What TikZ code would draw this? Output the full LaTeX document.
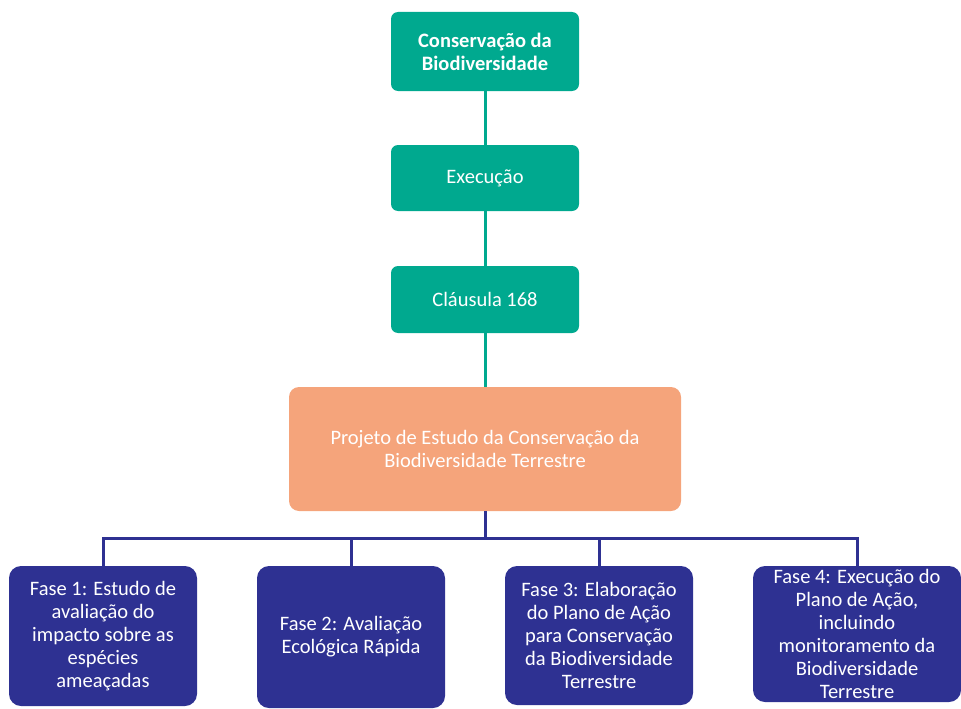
\documentclass[tikz,border=0pt]{standalone}
\usepackage{fontspec}
\setmainfont{Carlito}
\definecolor{gr}{HTML}{00A98F}
\definecolor{org}{HTML}{F5A47B}
\definecolor{nv}{HTML}{2E3192}
\begin{document}
\begin{tikzpicture}[x=1pt,y=-1pt,
  gbox/.style={fill=gr,rounded corners=7pt,inner sep=0pt,text=white,align=center,font=\fontsize{20.5}{23}\selectfont,minimum width=188pt},
  obox/.style={fill=org,rounded corners=10pt,inner sep=0pt,text=white,align=center,font=\fontsize{20.5}{22.5}\selectfont,minimum width=392pt,minimum height=124pt},
  bbox/.style={fill=nv,rounded corners=12pt,inner sep=0pt,text=white,align=center,font=\fontsize{20.5}{23}\selectfont},
  gline/.style={draw=gr,line width=3pt},
  bline/.style={draw=nv,line width=3pt}]
\useasboundingbox (0,0) rectangle (961,709);
\node[gbox,minimum height=79pt,font=\fontsize{20.5}{23}\selectfont\bfseries] (c1) at (485,51.5) {Conservação da\\Biodiversidade};
\node[gbox,minimum height=66pt] (c2) at (485,178) {Execução};
\node[gbox,minimum height=67pt] (c3) at (485,299.5) {Cláusula 168};
\node[obox] (o) at (485,449) {Projeto de Estudo da Conservação da\\Biodiversidade Terrestre};
\node[bbox,minimum width=188pt,minimum height=140pt] (p1) at (103,636) {Fase 1: Estudo de\\avaliação do\\impacto sobre as\\espécies\\ameaçadas};
\node[bbox,minimum width=188pt,minimum height=142pt] (p2) at (351,637) {Fase 2: Avaliação\\Ecológica Rápida};
\node[bbox,minimum width=188pt,minimum height=139pt] (p3) at (599,635.5) {Fase 3: Elaboração\\do Plano de Ação\\para Conservação\\da Biodiversidade\\Terrestre};
\node[bbox,minimum width=208pt,minimum height=136pt] (p4) at (857,634) {Fase 4: Execução do\\Plano de Ação,\\incluindo\\monitoramento da\\Biodiversidade\\Terrestre};
\coordinate (bus) at (485,538);
\draw[gline] (c1) -- (c2);
\draw[gline] (c2) -- (c3);
\draw[gline] (c3) -- (o);
\draw[bline] (o.south) -- (bus);
\draw[bline] (p1.north) |- (bus) -| (p4.north);
\draw[bline] (p2.north) -- (p2.north |- bus);
\draw[bline] (p3.north) -- (p3.north |- bus);
\end{tikzpicture}
\end{document}
